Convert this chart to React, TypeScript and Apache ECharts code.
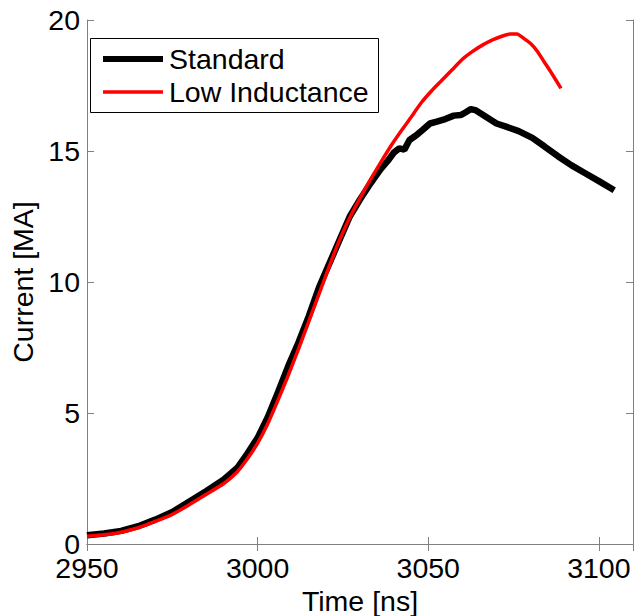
import React, { useEffect, useRef } from 'react';
import * as echarts from 'echarts';

const standardTime = [2950, 2955, 2960, 2965, 2970, 2975, 2980, 2985, 2990, 2994, 2997, 3000, 3003, 3006, 3009, 3012, 3015, 3018, 3021, 3024, 3027, 3030, 3033, 3036, 3038, 3040, 3041.5, 3043, 3044.5, 3046.5, 3048.5, 3050.5, 3052.5, 3055, 3057.5, 3059.5, 3061, 3062.5, 3064, 3067, 3070, 3073, 3076.5, 3080.5, 3084, 3088, 3092, 3096, 3100, 3104.5];
const standardCurrent = [0.33, 0.4, 0.5, 0.68, 0.93, 1.22, 1.62, 2.02, 2.45, 2.9, 3.45, 4.05, 4.85, 5.8, 6.8, 7.7, 8.7, 9.8, 10.7, 11.6, 12.5, 13.15, 13.75, 14.3, 14.6, 14.95, 15.1, 15.05, 15.42, 15.6, 15.82, 16.05, 16.12, 16.22, 16.35, 16.37, 16.48, 16.6, 16.55, 16.3, 16.05, 15.92, 15.76, 15.5, 15.18, 14.8, 14.45, 14.15, 13.85, 13.5];

const lowTime = [2950, 2955, 2960, 2965, 2970, 2975, 2980, 2985, 2990, 2994, 2997, 3000, 3003, 3006, 3009, 3012, 3015, 3018, 3021, 3024, 3027, 3030, 3033, 3036, 3039, 3042, 3045, 3048, 3051, 3054, 3057, 3060, 3063, 3066, 3069, 3072, 3074, 3076, 3078, 3080, 3082, 3084, 3086, 3088.9];
const lowCurrent = [0.3, 0.35, 0.45, 0.62, 0.86, 1.13, 1.5, 1.9, 2.3, 2.75, 3.25, 3.85, 4.6, 5.5, 6.45, 7.45, 8.5, 9.55, 10.6, 11.6, 12.45, 13.2, 13.9, 14.55, 15.18, 15.75, 16.3, 16.85, 17.3, 17.7, 18.1, 18.5, 18.8, 19.05, 19.25, 19.4, 19.47, 19.47, 19.3, 19.1, 18.8, 18.4, 18.0, 17.39];

const seriesNames = ['Standard', 'Low Inductance'];
const seriesColors = ['#000000', '#ff0000'];
const xTicks = [2950, 3000, 3050, 3100];
const yTicks = [0, 5, 10, 15, 20];

const FONT = '"Liberation Sans", Arial, Helvetica, sans-serif';
const FS = 28.5;

export default function App() {
  const ref = useRef<HTMLDivElement>(null);
  useEffect(() => {
    if (!ref.current) return;
    const chart = echarts.init(ref.current, null, { renderer: 'svg' });
    const axisColor = '#808080';
    const tickStyle = { show: true, inside: true, length: 7, lineStyle: { color: axisColor, width: 1 } };
    const xMin = 2950, xMax = 3110;
    const yMin = 0, yMax = 20;
    const stdData = standardTime.map((t, i) => [t, standardCurrent[i]]);
    const lowData = lowTime.map((t, i) => [t, lowCurrent[i]]);
    const legendX = 90, legendY = 38;
    chart.setOption({
      animation: false,
      backgroundColor: '#ffffff',
      textStyle: { fontFamily: FONT },
      grid: { left: 87, right: 1, top: 20, bottom: 72, containLabel: false, outerBoundsMode: 'none' },
      xAxis: [
        {
          type: 'value', min: xMin, max: xMax, interval: 50,
          name: 'Time [ns]', nameLocation: 'middle', nameGap: 39,
          nameTextStyle: { fontSize: FS, color: '#000', fontFamily: FONT },
          axisLine: { show: true, lineStyle: { color: axisColor, width: 1 } },
          axisTick: tickStyle,
          axisLabel: {
            fontSize: FS, color: '#000', margin: 9, fontFamily: FONT,
            formatter: (v: number) => (xTicks.includes(v) ? String(v) : ''),
          },
          splitLine: { show: false },
        },
        {
          type: 'value', position: 'top', min: xMin, max: xMax, interval: 50,
          axisLine: { show: true, lineStyle: { color: axisColor, width: 1 } },
          axisTick: tickStyle, axisLabel: { show: false }, splitLine: { show: false },
        },
      ],
      yAxis: [
        {
          type: 'value', min: yMin, max: yMax, interval: 5,
          name: 'Current [MA]', nameLocation: 'middle', nameGap: 43, nameRotate: 90,
          nameTextStyle: { fontSize: FS, color: '#000', fontFamily: FONT },
          axisLine: { show: true, lineStyle: { color: axisColor, width: 1 } },
          axisTick: tickStyle,
          axisLabel: {
            fontSize: FS, color: '#000', margin: 7, fontFamily: FONT,
            formatter: (v: number) => (yTicks.includes(v) ? String(v) : ''),
          },
          splitLine: { show: false },
        },
        {
          type: 'value', position: 'right', min: yMin, max: yMax, interval: 5,
          axisLine: { show: true, lineStyle: { color: axisColor, width: 1 } },
          axisTick: tickStyle, axisLabel: { show: false }, splitLine: { show: false },
        },
      ],
      series: [
        {
          name: seriesNames[0], type: 'line', data: stdData, showSymbol: false, symbol: 'none',
          lineStyle: { color: seriesColors[0], width: 6.5 }, itemStyle: { color: seriesColors[0] },
          smooth: false, z: 2,
        },
        {
          name: seriesNames[1], type: 'line', data: lowData, showSymbol: false, symbol: 'none',
          lineStyle: { color: seriesColors[1], width: 3.5 }, itemStyle: { color: seriesColors[1] },
          smooth: 0.2, z: 3,
        },
      ],
      graphic: [
        {
          type: 'rect', z: 10,
          shape: { x: legendX + 0.5, y: legendY + 0.5, width: 288, height: 74 },
          style: { fill: '#ffffff', stroke: '#000000', lineWidth: 1 },
        },
        {
          type: 'line', z: 11,
          shape: { x1: legendX + 13, y1: legendY + 21, x2: legendX + 73, y2: legendY + 21 },
          style: { stroke: seriesColors[0], lineWidth: 6 },
        },
        {
          type: 'line', z: 11,
          shape: { x1: legendX + 13, y1: legendY + 54, x2: legendX + 73, y2: legendY + 54 },
          style: { stroke: seriesColors[1], lineWidth: 3.5 },
        },
        {
          type: 'text', z: 11, x: legendX + 79, y: legendY + 21,
          style: { text: seriesNames[0], fontSize: FS, fontFamily: FONT, fill: '#000', verticalAlign: 'middle', align: 'left' },
        },
        {
          type: 'text', z: 11, x: legendX + 79, y: legendY + 54,
          style: { text: seriesNames[1], fontSize: FS, fontFamily: FONT, fill: '#000', verticalAlign: 'middle', align: 'left' },
        },
      ],
    });
    return () => chart.dispose();
  }, []);
  return <div ref={ref} style={{ width: 634, height: 616, position: 'absolute', left: 0, top: 0 }} />;
}
